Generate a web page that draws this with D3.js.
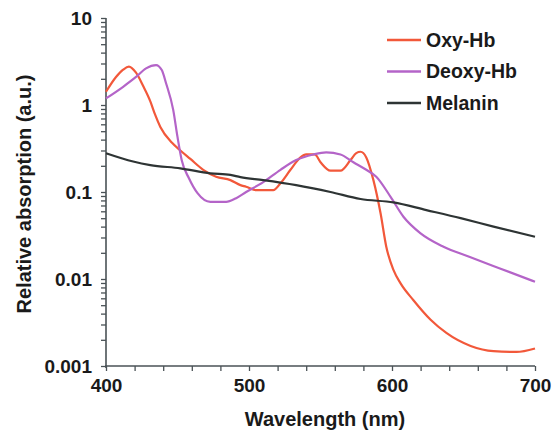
<!DOCTYPE html>
<html lang="en">
<head>
    <meta charset="UTF-8">
    <title>Absorption spectra</title>
    <script src="https://d3js.org/d3.v7.min.js"></script>
    <style>
        body { margin: 0; background: #fff; }
        text {
            font-family: 'Liberation Sans', Arial, sans-serif;
            font-weight: bold;
            fill: #1a1a1a;
        }
    </style>
</head>
<body>

<script>
    const width  = 552;
    const height = 434;

    // Oxy-Hb
    const oxyWl = [400, 407, 412, 416, 421, 426, 431, 434, 438, 446, 452, 459, 468, 477, 487, 494, 498, 505, 517, 522, 529, 536, 540, 546, 550, 557, 564, 571, 575, 578, 582, 587, 592, 596, 601, 606, 615, 627, 638, 655, 671, 687, 700];
    const oxyAbs = [1.42, 2.1, 2.55, 2.76, 2.35, 1.65, 1.1, 0.8, 0.56, 0.37, 0.30, 0.24, 0.18, 0.15, 0.137, 0.12, 0.115, 0.105, 0.105, 0.126, 0.18, 0.25, 0.27, 0.27, 0.22, 0.176, 0.176, 0.233, 0.28, 0.29, 0.25, 0.137, 0.057, 0.0235, 0.0127, 0.0089, 0.0057, 0.0034, 0.0024, 0.0017, 0.00148, 0.00145, 0.00159];

    // Deoxy-Hb
    const deoxyWl = [400, 412, 421, 428, 435, 439, 442, 447, 450, 453, 458, 464, 473, 484, 491, 498, 510, 522, 533, 545, 554, 564, 573, 582, 589, 599, 608, 620, 636, 654, 675, 700];
    const deoxyAbs = [1.19, 1.62, 2.1, 2.64, 2.88, 2.52, 1.78, 0.88, 0.43, 0.23, 0.144, 0.097, 0.077, 0.077, 0.085, 0.10, 0.13, 0.18, 0.233, 0.27, 0.286, 0.27, 0.22, 0.18, 0.15, 0.088, 0.052, 0.0335, 0.0235, 0.018, 0.0133, 0.0093];

    // Melanin
    const melWl = [400, 419, 431, 452, 473, 487, 494, 510, 533, 557, 578, 601, 624, 648, 671, 700];
    const melAbs = [0.279, 0.224, 0.204, 0.187, 0.164, 0.157, 0.148, 0.137, 0.12, 0.10, 0.083, 0.076, 0.062, 0.05, 0.04, 0.0306];

    const seriesNames = ["Oxy-Hb", "Deoxy-Hb", "Melanin"];
    const seriesColors = ["#f2583a", "#b464c8", "#2e3434"];

    const xTickLabels = [400, 500, 600, 700];
    const yTickLabels = [10, 1, 0.1, 0.01, 0.001];

    const series = [
        {name: seriesNames[0], color: seriesColors[0], pts: oxyWl.map((w, i) => [w, oxyAbs[i]])},
        {name: seriesNames[1], color: seriesColors[1], pts: deoxyWl.map((w, i) => [w, deoxyAbs[i]])},
        {name: seriesNames[2], color: seriesColors[2], pts: melWl.map((w, i) => [w, melAbs[i]])}
    ];

    const x = d3.scaleLinear().domain([400, 700]).range([106, 535]);
    const y = d3.scaleLog().domain([0.001, 10]).range([366, 18]);

    const svg = d3.select("body")
                  .append("svg").attr("width", width).attr("height", height);

    // x axis: ticks every 20 nm, labels every 100
    const xAxis = d3.axisBottom(x)
                    .tickValues(d3.range(400, 701, 20))
                    .tickSize(5)
                    .tickFormat(d => xTickLabels.includes(d) ? d : "");
    const gx = svg.append("g")
                  .attr("transform", "translate(0," + y.range()[0] + ")")
                  .call(xAxis);

    // y axis: log ticks
    const yTicks = [];
    for (let e = -3; e <= 0; e++) {
        for (let m = 1; m <= 9; m++) yTicks.push(m * Math.pow(10, e));
    }
    yTicks.push(10);
    const yAxis = d3.axisLeft(y)
                    .tickValues(yTicks)
                    .tickSize(5)
                    .tickFormat(d => {
                        const hit = yTickLabels.find(v => Math.abs(v - d) / v < 1e-6);
                        return hit !== undefined ? String(hit) : "";
                    });
    const gy = svg.append("g")
                  .attr("transform", "translate(" + x.range()[0] + ",0)")
                  .call(yAxis);

    [gx, gy].forEach(g => {
        g.select(".domain").attr("stroke", "#4a5256").attr("stroke-width", 1.6);
        g.selectAll(".tick line").attr("stroke", "#4a5256").attr("stroke-width", 1.3);
        g.selectAll(".tick text")
         .attr("font-size", 19)
         .attr("font-family", "'Liberation Sans', Arial, sans-serif")
         .attr("font-weight", "bold")
         .attr("fill", "#1a1a1a");
    });
    gx.select(".domain").attr("d", "M" + (x.range()[0] - 1) + ",0H" + x.range()[1]);
    gy.select(".domain").attr("d", "M0," + y.range()[1] + "V" + (y.range()[0] + 2));
    gx.selectAll(".tick text").attr("dy", "0.95em");
    gy.selectAll(".tick text").attr("x", -14).attr("dy", "0.36em");

    const line = d3.line()
                   .x(d => x(d[0]))
                   .y(d => y(d[1]))
                   .curve(d3.curveMonotoneX);

    svg.selectAll("path.series")
       .data(series)
       .enter().append("path")
       .attr("class", "series")
       .attr("d", d => line(d.pts))
       .attr("fill", "none")
       .attr("stroke", d => d.color)
       .attr("stroke-width", 2.2)
       .attr("stroke-linejoin", "round");

    // legend
    const legend = svg.append("g").attr("transform", "translate(387,40)");
    series.forEach((s, i) => {
        legend.append("line")
              .attr("x1", 0).attr("x2", 34)
              .attr("y1", i * 31.5).attr("y2", i * 31.5)
              .attr("stroke", s.color)
              .attr("stroke-width", 2.6);
        legend.append("text")
              .attr("x", 39)
              .attr("y", i * 31.5 + 6.5)
              .attr("font-size", 19.5)
              .text(s.name);
    });

    // axis titles
    svg.append("text")
       .attr("x", 325)
       .attr("y", 426)
       .attr("text-anchor", "middle")
       .attr("font-size", 20)
       .text("Wavelength (nm)");

    svg.append("text")
       .attr("transform", "translate(31,194) rotate(-90)")
       .attr("text-anchor", "middle")
       .attr("font-size", 20)
       .text("Relative absorption (a.u.)");
</script>

</body>
</html>
